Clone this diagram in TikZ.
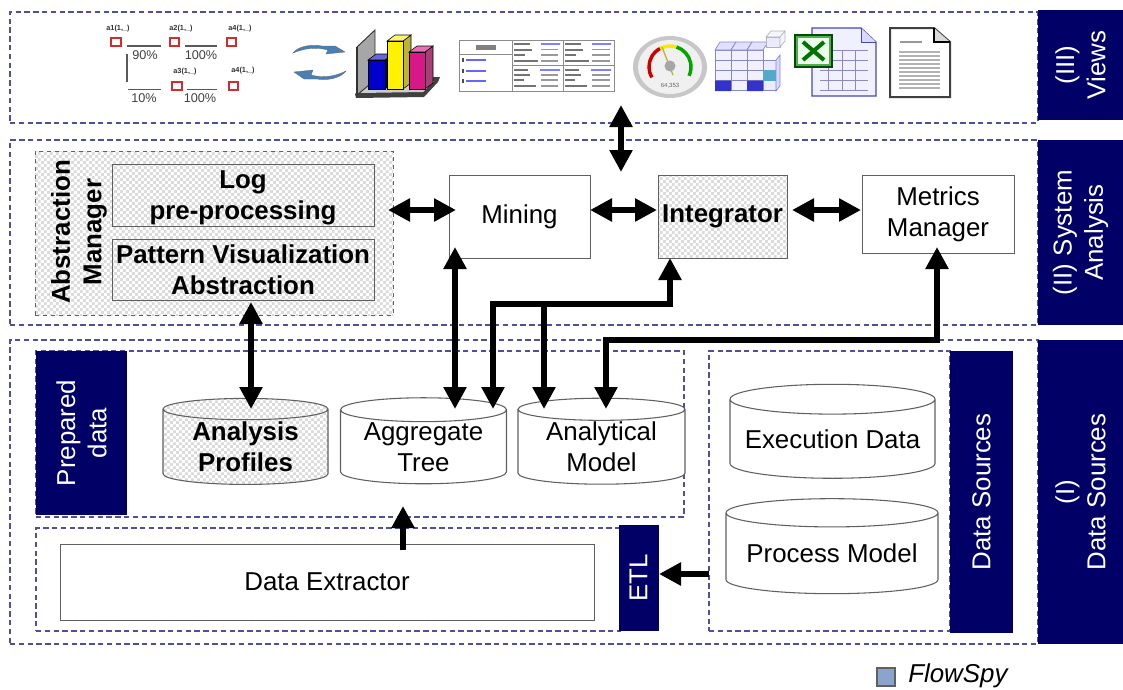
\documentclass[tikz,border=0pt]{standalone}
\usepackage{fontspec}
\setmainfont{Liberation Sans}
\usetikzlibrary{arrows.meta,patterns,shapes.geometric,calc}
\definecolor{navyb}{HTML}{000066}
\definecolor{dashc}{HTML}{4F4F9E}
\definecolor{edgec}{HTML}{606060}
\definecolor{swooshc}{HTML}{4A7FB5}
\definecolor{legc}{HTML}{8AA5CC}
\pgfdeclarepatternformonly{softcheck}{\pgfqpoint{0pt}{0pt}}{\pgfqpoint{4.4pt}{4.4pt}}{\pgfqpoint{4.4pt}{4.4pt}}{%
  \pgfpathrectangle{\pgfqpoint{0pt}{0pt}}{\pgfqpoint{2.2pt}{2.2pt}}%
  \pgfpathrectangle{\pgfqpoint{2.2pt}{2.2pt}}{\pgfqpoint{2.2pt}{2.2pt}}%
  \pgfusepath{fill}}
\newcommand{\bodyfont}{\fontsize{19.4}{23.5}\selectfont}
\newcommand{\tinyfont}{\fontsize{5.5}{6}\selectfont}
\newcommand{\pctfont}{\fontsize{9.5}{10}\selectfont}
\tikzset{
  wh/.style 2 args={minimum width=#1*0.75pt, minimum height=#2*0.75pt, inner sep=0pt, outer sep=0pt},
  layerbox/.style={draw=dashc, line width=0.9pt, dash pattern=on 4pt off 2.6pt},
  banner/.style={fill=navyb, text=white, align=center, font=\bodyfont, rotate=0},
  vtext/.style={text=white, align=center, font=\bodyfont, rotate=90},
  compbox/.style={draw=edgec, line width=0.7pt, fill=white, align=center, font=\bodyfont},
  checked/.style={fill=none, preaction={fill=white}, preaction={pattern=softcheck, pattern color=gray!28}},
  boldbox/.style={compbox, checked, font=\bodyfont\bfseries},
  db/.style={cylinder, shape border rotate=90, draw=edgec, line width=0.8pt, fill=white, align=center,
    font=\bodyfont, inner sep=0pt, outer sep=0pt},
  biarrow/.style={line width=5.2pt, {Triangle[length=16.5pt,width=16.5pt]}-{Triangle[length=16.5pt,width=16.5pt]}},
  onearrow/.style={line width=5.2pt, -{Triangle[length=16.5pt,width=16.5pt]}},
  redsq/.style={draw=red!65!gray, line width=1.1pt, fill=white},
  smalllabel/.style={font=\tinyfont\bfseries, text=black!80, inner sep=0pt},
  pctlabel/.style={font=\pctfont, text=black!75, inner sep=0pt},
  swoosh/.style={fill=swooshc, draw=black!60, line width=0.25pt},
}
\begin{document}
\begin{tikzpicture}[x=0.75pt,y=-0.75pt]
\useasboundingbox (0,0) rectangle (1123,689);
% layers
\node[layerbox,wh={1028}{111}] (lay3) at (524,67.5) {};
\node[layerbox,wh={1028}{185}] (lay2) at (524,232.5) {};
\node[layerbox,wh={1028}{304}] (lay1) at (524,492) {};
\node[banner,wh={85}{110}] (b3) at (1080.5,65) {};
\node[vtext] (b3t) at (b3) {(III)\\Views};
\node[banner,wh={85}{185}] (b2) at (1080.5,232.5) {};
\node[vtext] (b2t) at (b2) {(II) System\\Analysis};
\node[banner,wh={85}{304}] (b1) at (1080.5,492) {};
\node[vtext] (b1t) at (b1) {(I)\\Data Sources};
% inner layer 1
\node[layerbox,wh={648}{166}] (prep) at (360,434) {};
\node[layerbox,wh={584}{103}] (extr) at (328,579.5) {};
\node[layerbox,wh={241}{280}] (srcs) at (829.5,491) {};
\node[banner,wh={91}{164}] (prepb) at (81.5,433) {};
\node[vtext] (prept) at (prepb) {Prepared\\data};
\node[banner,wh={40}{106}] (etlb) at (638.5,578) {};
\node[vtext] (etlt) at (etlb) {ETL};
\node[banner,wh={63}{282}] (srcb) at (981.5,492) {};
\node[vtext] (srct) at (srcb) {Data Sources};
\node[compbox,wh={534}{76}] (extractor) at (327,582) {Data Extractor};
% cylinders
\node[db,wh={165}{86},aspect=0.2,font=\bodyfont\bfseries,checked] (profiles) at (245.5,447) {Analysis\\Profiles};
\node[db,wh={166}{86},aspect=0.2] (aggtree) at (423.5,447) {Aggregate\\Tree};
\node[db,wh={167}{86},aspect=0.2] (anmodel) at (601.5,447) {Analytical\\Model};
\node[db,wh={205}{94},aspect=0.17] (execdata) at (832.5,439) {Execution Data};
\node[db,wh={212}{95},aspect=0.165] (procmodel) at (832,553.5) {Process Model};
% layer 2
\node[draw=edgec,line width=0.7pt,dashed,checked,wh={358}{164}] (absmgr) at (214,233) {};
\node[font=\bodyfont\bfseries,align=center,rotate=90] (absmgrt) at (79,232) {Abstraction\\Manager};
\node[boldbox,wh={262}{62}] (logbox) at (243,195) {};
\node[font=\bodyfont\bfseries,align=center,inner sep=0pt] (logtxt) at (243,198) {Log\\pre-processing};
\node[boldbox,wh={262}{61}] (patbox) at (243,269.5) {Pattern Visualization\\Abstraction};
\node[compbox,wh={141}{83}] (mining) at (519.5,216.5) {Mining};
\node[boldbox,wh={129}{83}] (integrator) at (722.5,216.5) {Integrator};
\node[compbox,wh={152}{78}] (metrics) at (938,214) {Metrics\\Manager};
% connector ends
\coordinate (viewsEnd) at (621,105);
\coordinate (sysEnd) at (621,172);
\coordinate (absR) at (388,210);
\coordinate (minL) at (456,210);
\coordinate (minR) at (590,210);
\coordinate (intL) at (657,210);
\coordinate (intR) at (792,210);
\coordinate (metL) at (861,210);
\coordinate (patB) at (251,302);
\coordinate (proT) at (251,409);
\coordinate (minB) at (455,247);
\coordinate (aggA) at (455,409);
\coordinate (aggB) at (493,409);
\coordinate (anA) at (544,409);
\coordinate (anB) at (606,409);
\coordinate (intB) at (670,258);
\coordinate (busRight) at (670,304);
\coordinate (busLeft) at (493,304);
\coordinate (busMid) at (544,304);
\coordinate (metB) at (937,247);
\coordinate (metTurn) at (937,340);
\coordinate (anTurn) at (606,340);
\coordinate (extT) at (403,550);
\coordinate (aggU) at (403,506);
\coordinate (srcL) at (709,574);
\coordinate (etlR) at (659,574);
% connectors
\draw[biarrow] (viewsEnd) -- (sysEnd);
\draw[biarrow] (absR) -- (minL);
\draw[biarrow] (minR) -- (intL);
\draw[biarrow] (intR) -- (metL);
\draw[biarrow] (patB) -- (proT);
\draw[biarrow] (minB) -- (aggA);
\draw[onearrow,line join=miter] (busLeft) -- (busRight) -- (intB);
\draw[onearrow,line join=miter] (busRight) -- (busLeft) -- (aggB);
\draw[onearrow] (busMid) -- (anA);
\draw[biarrow,line join=miter] (anB) -- (anTurn) -- (metTurn) -- (metB);
\draw[onearrow] (extT) -- (aggU);
\draw[onearrow] (srcL) -- (etlR);
% legend
\node[draw=edgec,fill=legc,line width=0.9pt,wh={18}{18}] (legbox) at (886,677) {};
\node[font=\bodyfont\itshape,anchor=west,inner sep=0pt] (legtxt) at (908,676) {FlowSpy};
% ---- views icons ----
\node[smalllabel] (la1) at (118,29) {a1(1,\_)};
\node[smalllabel] (la2) at (181,29) {a2(1,\_)};
\node[smalllabel] (la4) at (240,29) {a4(1,\_)};
\node[smalllabel] (la3) at (185,72) {a3(1,\_)};
\node[smalllabel] (la5) at (243,71) {a4(1,\_)};
\draw[redsq] (111,38) rectangle (121,46);
\draw[redsq] (170,38) rectangle (179,46);
\draw[redsq] (227,38) rectangle (236,46);
\draw[redsq] (172,82) rectangle (182,90);
\draw[redsq] (229,82) rectangle (238,90);
\draw[black!65,line width=0.8pt] (127,46)--(161,46) (185,46)--(217,46) (127,54)--(127,82) (128,89.5)--(161,89.5) (187,89.5)--(217,89.5);
\node[pctlabel] (p90) at (145,55) {90\%};
\node[pctlabel] (p100a) at (201,55) {100\%};
\node[pctlabel] (p10) at (144,98) {10\%};
\node[pctlabel] (p100b) at (200,98) {100\%};
% swooshes
\draw[swoosh] (293,53) .. controls (298,46) and (312,44) .. (322,46) -- (335,46) -- (345,52) -- (326,54) -- (328,50) .. controls (316,47) and (305,48) .. (293,53) -- cycle;
\draw[swoosh] (346,71) .. controls (341,78) and (327,81) .. (317,79) -- (304,79) -- (294,72) -- (313,70) -- (311,75) .. controls (323,78) and (334,77) .. (346,71) -- cycle;
% bar chart
\fill[black!75] (355,94) -- (372,78) -- (440,77) -- (438,82) -- (424,97) -- (356,98) -- cycle;
\fill[black!20] (360,93) -- (372,82) -- (434,81) -- (423,92) -- cycle;
\fill[black!35,draw=black!80,line width=0.7pt] (357,47) -- (375,30) -- (375,80) -- (357,95) -- cycle;
\draw[black!80,line width=1.2pt] (357,47) -- (357,95);
\foreach \xa/\xb/\ya/\c in {368/385/60/blue!80!black,387/403/41/yellow,409/425/52/magenta!80!violet}{
  \fill[\c!70!black,draw=black,line width=0.4pt] (\xb,\ya) -- (\xb+8,\ya-6) -- (\xb+8,83) -- (\xb,89) -- cycle;
  \fill[\c!60!white,draw=black,line width=0.4pt] (\xa,\ya) -- (\xa+8,\ya-6) -- (\xb+8,\ya-6) -- (\xb,\ya) -- cycle;
  \fill[\c,draw=black,line width=0.4pt] (\xa,\ya) rectangle (\xb,89);
}
% table report
\draw[black!45,line width=0.6pt,fill=white] (459,40) rectangle (614,91);
\draw[black!45,line width=0.6pt] (459,54)--(512,54) (512,40)--(512,91) (512,65)--(614,65) (563,40)--(563,91);
\fill[black!50] (476,45) rectangle (496,50);
\foreach \y in {60,71,81}{
  \fill[black!70] (462,\y-2) rectangle (464,\y+2);
  \fill[blue!60] (466,\y-1) rectangle (486,\y+1);
}
\foreach \y/\w in {44/16,49.5/18,55/11,61/24,70/14,75/16,80/10,86/22}{
  \fill[black!55] (514,\y-1) rectangle (514+\w,\y+1);
  \fill[black!55] (565,\y-1) rectangle (565+\w,\y+1);
  \fill[black!40] (541,\y-.6) rectangle (558,\y+.6);
  \fill[black!40] (592,\y-.6) rectangle (610,\y+.6);
}
\fill[blue!50] (541,43.2) rectangle (560,44.8) (592,43.2) rectangle (611,44.8) (540,69.2) rectangle (560,70.8) (591,69.2) rectangle (611,70.8);
% gauge
\fill[black!22] (670,67) ellipse (37 and 31);
\fill[black!6] (670,67) ellipse (32 and 27);
\draw[red!80!black,line width=2.6pt] (651.8,77.5) arc[start angle=-210,end angle=-118,radius=21];
\draw[yellow!90!orange,line width=2.6pt] (660.1,48.5) arc[start angle=-118,end angle=-72,radius=21];
\draw[green!65!black,line width=2.6pt] (676.5,47) arc[start angle=-72,end angle=25,radius=21];
\draw[yellow!70!black,line width=1pt] (662,47) -- (673,75);
\fill[black!35] (670,66) circle (5.5);
\node[font=\fontsize{4.5}{5}\selectfont,text=black!60,inner sep=0pt] (gval) at (670,86) {64,353};
% cube
\foreach \i in {0,1,2}{\foreach \j in {0,1,2,3}{
  \draw[blue!35!gray!70,fill=blue!6,line width=0.5pt] (715+\i*16,50+\j*10.2) rectangle +(16,10.2);
  }
  \draw[blue!35!gray!70,fill=blue!12,line width=0.5pt] (715+\i*16,50) -- (720+\i*16,42) -- (736+\i*16,42) -- (731+\i*16,50) -- cycle;
}
\foreach \j in {0,1,2}{\draw[blue!35!gray!70,fill=blue!8,line width=0.5pt] (763,60.2+\j*10.2) rectangle +(13,10.2);}
\draw[blue!35!gray!70,fill=blue!15,line width=0.5pt] (776,60.2) -- (780,55) -- (780,86) -- (776,91) -- cycle;
\fill[blue!60!gray] (715,80.6) rectangle (731,91) (747,80.6) rectangle (763,91);
\fill[cyan!60!gray] (763,70.4) rectangle (776,80.6);
\draw[black!30,fill=blue!8,line width=0.5pt] (766,37) rectangle (780,47);
\draw[black!30,fill=blue!4,line width=0.5pt] (766,37) -- (771,31) -- (785,31) -- (780,37) -- cycle (780,37) -- (785,31) -- (785,41) -- (780,47) -- cycle;
% excel
\draw[blue!45!gray,fill=blue!6,line width=0.9pt] (812,28) -- (861,28) -- (876,42) -- (876,96) -- (812,96) -- cycle;
\draw[blue!45!gray,fill=blue!15,line width=0.6pt] (861,28) -- (861,42) -- (876,42);
\foreach \y in {50,60,70,80,90}{\draw[blue!30!gray!70,line width=0.4pt] (820,\y) -- (868,\y);}
\foreach \x in {828,842,855}{\draw[blue!30!gray!70,line width=0.4pt] (\x,50) -- (\x,90);}
\fill[green!35!gray,draw=green!30!black,line width=0.9pt] (795,35) rectangle (832,67);
\fill[white!92!green] (798,38) rectangle (829,64);
\draw[green!45!black,line width=3pt] (803,42) -- (824,60);
\draw[green!45!black,line width=3pt] (824,42) -- (803,60);
% document
\draw[black!75,fill=white,line width=1.5pt] (890,28) -- (934,28) -- (950,42) -- (950,97) -- (890,97) -- cycle;
\draw[black,fill=black!15,line width=1pt] (934,28) -- (934,42) -- (950,42);
\fill[black!40] (900,41) rectangle (922,43);
\foreach \y in {51,55,59,63,67,71,75,79,83,87}{\fill[black!30] (899,\y) rectangle (940,\y+1.8);}
\end{tikzpicture}
\end{document}
